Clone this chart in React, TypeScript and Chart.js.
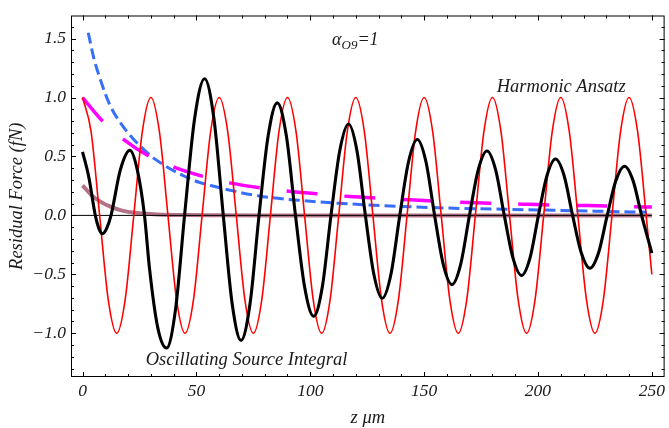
import React, { useEffect, useRef } from "react";
import { Chart, registerables } from "chart.js";

Chart.register(...registerables);

// ---------- data ----------
// Harmonic ansatz (red)
const redZ = [
  0, 3.75, 7.5, 11.25, 15, 18.75, 22.5, 26.25,
  30, 33.75, 37.5, 41.25, 45, 48.75, 52.5, 56.25,
  60, 63.75, 67.5, 71.25, 75, 78.75, 82.5, 86.25,
  90, 93.75, 97.5, 101.25, 105, 108.75, 112.5, 116.25,
  120, 123.75, 127.5, 131.25, 135, 138.75, 142.5, 146.25,
  150, 153.75, 157.5, 161.25, 165, 168.75, 172.5, 176.25,
  180, 183.75, 187.5, 191.25, 195, 198.75, 202.5, 206.25,
  210, 213.75, 217.5, 221.25, 225, 228.75, 232.5, 236.25,
  240, 243.75, 247.5, 250,
];
const redY = [
  1, 0.71, 0, -0.71, -1, -0.71, 0, 0.71,
  1, 0.71, 0, -0.71, -1, -0.71, 0, 0.71,
  1, 0.71, 0, -0.71, -1, -0.71, 0, 0.71,
  1, 0.71, 0, -0.71, -1, -0.71, 0, 0.71,
  1, 0.71, 0, -0.71, -1, -0.71, 0, 0.71,
  1, 0.71, 0, -0.71, -1, -0.71, 0, 0.71,
  1, 0.71, 0, -0.71, -1, -0.71, 0, 0.71,
  1, 0.71, 0, -0.71, -1, -0.71, 0, 0.71,
  1, 0.71, 0, -0.5,
];

// Oscillating source integral (black)
const blackZ = [
  0, 2.8, 5.6, 7.15, 8.7, 10.6, 12.5, 16.65, 20.8, 24.0, 27.2,
  29.4, 33, 36.9, 40.85, 44.8, 49.2, 53.6, 57.7, 61.8,
  65.7, 69.6, 73.55, 77.5, 81.5, 85.5, 89.5, 93.5,
  97.5, 101.5, 105.3, 109.1, 112.95, 116.8, 120.5, 124.2,
  127.9, 131.6, 135.45, 139.3, 143.15, 147.0, 150.8, 154.6,
  158.4, 162.2, 166.05, 169.9, 173.75, 177.6, 181.4, 185.2,
  189.0, 192.8, 196.5, 200.2, 203.95, 207.7, 211.45, 215.2,
  219.0, 222.8, 226.6, 230.4, 234.2, 238.0, 241.75, 245.5, 250,
];
const blackY = [
  0.54, 0.32, 0, -0.11, -0.155, -0.11, 0, 0.39, 0.552, 0.39, 0,
  -0.45, -0.95, -1.125, -0.795, 0, 0.82, 1.16, 0.82, 0,
  -0.75, -1.06, -0.75, 0, 0.675, 0.955, 0.675, 0,
  -0.605, -0.856, -0.605, 0, 0.548, 0.775, 0.548, 0,
  -0.497, -0.703, -0.497, 0, 0.455, 0.644, 0.455, 0,
  -0.415, -0.587, -0.415, 0, 0.387, 0.547, 0.387, 0,
  -0.36, -0.509, -0.36, 0, 0.338, 0.478, 0.338, 0,
  -0.317, -0.448, -0.317, 0, 0.295, 0.417, 0.295, 0, -0.32,
];

// Blue dashed envelope
const blueZ = [2.5, 5, 7.7, 12, 17.2, 22, 27.4, 32, 39, 45, 51.3, 58, 64.4, 77.5, 95, 112.4, 135, 160.4, 180, 200, 225, 247.8];
const blueY = [1.55, 1.33, 1.16, 0.936, 0.77, 0.655, 0.55, 0.475, 0.39, 0.33, 0.28, 0.245, 0.215, 0.165, 0.128, 0.103, 0.08, 0.062, 0.054, 0.046, 0.036, 0.027];

// Magenta long-dashed curve
const magZ = [0, 9.3, 18.1, 29.4, 40.7, 53.4, 65.8, 78.2, 91.6, 105.5, 117.5, 131.3, 143.7, 157.1, 169.2, 183.7, 195.4, 209.5, 221.3, 235.4, 247, 250];
const magY = [1.0, 0.79, 0.643, 0.5, 0.405, 0.328, 0.272, 0.233, 0.203, 0.179, 0.16, 0.145, 0.132, 0.12, 0.11, 0.1, 0.094, 0.087, 0.083, 0.077, 0.072, 0.071];

// Mauve decaying curve
const mauveZ = [0, 4, 8, 12, 17, 24, 33, 45, 60, 80, 250];
const mauveY = [0.255, 0.17, 0.115, 0.076, 0.043, 0.02, 0.008, 0.003, 0.001, 0, 0];

// Axis line at zero
const axisZ = [-5.07, 250];
const axisY = [0, 0];

// Axis settings
const X_MIN = -5.07;
const X_MAX = 255.6;
const Y_MIN = -1.371;
const Y_MAX = 1.696;
const X_MAJOR = 50;
const X_MINOR = 10;
const Y_MAJOR = 0.5;
const Y_MINOR = 0.1;

const X_TITLE = "z μm";
const Y_TITLE = "Residual Force (fN)";
const LABEL_HARMONIC = "Harmonic Ansatz";
const LABEL_OSC = "Oscillating Source Integral";

const SERIF = "'Liberation Serif', 'Times New Roman', serif";

const pts = (xs: number[], ys: number[]) => xs.map((x, i) => ({ x, y: ys[i] }));

const framePlugin = {
  id: "mmaFrame",
  afterDraw(chart: any) {
    const { ctx, chartArea: a, scales } = chart;
    const xs = scales.x;
    const ys = scales.y;
    ctx.save();
    ctx.strokeStyle = "#000";
    ctx.lineWidth = 1;
    ctx.strokeRect(a.left + 0.5, a.top + 0.5, a.right - a.left - 1, a.bottom - a.top - 1);
    ctx.beginPath();
    const nx = Math.round((250 - 0) / X_MINOR);
    for (let i = 0; i <= nx; i++) {
      const v = i * X_MINOR;
      const major = Math.abs(v / X_MAJOR - Math.round(v / X_MAJOR)) < 1e-6;
      const L = major ? 5 : 3;
      const px = Math.round(xs.getPixelForValue(v)) + 0.5;
      ctx.moveTo(px, a.bottom);
      ctx.lineTo(px, a.bottom - L);
      ctx.moveTo(px, a.top);
      ctx.lineTo(px, a.top + L);
    }
    for (let i = -13; i <= 16; i++) {
      const v = i * Y_MINOR;
      const major = Math.abs(v / Y_MAJOR - Math.round(v / Y_MAJOR)) < 1e-6;
      const L = major ? 5 : 3;
      const py = Math.round(ys.getPixelForValue(v)) + 0.5;
      ctx.moveTo(a.left, py);
      ctx.lineTo(a.left + L, py);
      ctx.moveTo(a.right, py);
      ctx.lineTo(a.right - L, py);
    }
    ctx.stroke();

    ctx.fillStyle = "#1a1a1a";
    ctx.textAlign = "center";
    ctx.textBaseline = "alphabetic";
    ctx.font = `italic 18.5px ${SERIF}`;
    ctx.fillText(LABEL_HARMONIC, xs.getPixelForValue(210.2), ys.getPixelForValue(1.096) + 6);
    ctx.fillText(LABEL_OSC, xs.getPixelForValue(72.0), ys.getPixelForValue(-1.221) + 6);

    // alpha_O9 = 1
    const cx = xs.getPixelForValue(119.8);
    const by = ys.getPixelForValue(1.496) + 6;
    ctx.textAlign = "left";
    ctx.font = `italic 18px ${SERIF}`;
    const w1 = ctx.measureText("α").width;
    const w3 = ctx.measureText("=1").width;
    ctx.font = `italic 13px ${SERIF}`;
    const w2 = ctx.measureText("O9").width;
    let sx = cx - (w1 + w2 + w3) / 2;
    ctx.font = `italic 18px ${SERIF}`;
    ctx.fillText("α", sx, by);
    sx += w1;
    ctx.font = `italic 13px ${SERIF}`;
    ctx.fillText("O9", sx, by + 4);
    sx += w2;
    ctx.font = `italic 18px ${SERIF}`;
    ctx.fillText("=1", sx, by);

    // axis titles
    ctx.textAlign = "center";
    ctx.textBaseline = "middle";
    ctx.font = `italic 18.5px ${SERIF}`;
    ctx.fillText(X_TITLE, (a.left + a.right) / 2, 418);
    ctx.save();
    ctx.translate(17.5, (a.top + a.bottom) / 2);
    ctx.rotate(-Math.PI / 2);
    ctx.fillText(Y_TITLE, 0, 0);
    ctx.restore();
    ctx.restore();
  },
};

export default function App() {
  const ref = useRef<HTMLCanvasElement | null>(null);
  useEffect(() => {
    document.body.style.margin = "0";
    const canvas = ref.current;
    if (!canvas) return;
    const tickFont = { family: SERIF, style: "italic" as const, size: 17.5 };
    const chart = new Chart(canvas, {
      type: "line",
      data: {
        datasets: [
          {
            label: "Oscillating Source Integral",
            data: pts(blackZ, blackY),
            borderColor: "#000",
            borderWidth: 3.1,
            pointRadius: 0,
            cubicInterpolationMode: "monotone",
          },
          {
            label: "Harmonic Ansatz",
            data: pts(redZ, redY),
            borderColor: "rgb(255,0,0)",
            borderWidth: 1.6,
            pointRadius: 0,
            cubicInterpolationMode: "monotone",
          },
          {
            label: "magenta",
            data: pts(magZ, magY),
            borderColor: "rgb(255,0,255)",
            borderWidth: 3.5,
            borderDash: [31, 27],
            pointRadius: 0,
            cubicInterpolationMode: "monotone",
          },
          {
            label: "blue",
            data: pts(blueZ, blueY),
            borderColor: "rgb(55,110,250)",
            borderWidth: 3,
            borderDash: [11, 5],
            pointRadius: 0,
            cubicInterpolationMode: "monotone",
          },
          {
            label: "axis",
            data: pts(axisZ, axisY),
            borderColor: "#000",
            borderWidth: 1,
            pointRadius: 0,
          },
          {
            label: "mauve",
            data: pts(mauveZ, mauveY),
            borderColor: "rgba(160,80,105,0.8)",
            borderWidth: 4,
            pointRadius: 0,
            cubicInterpolationMode: "monotone",
          },
        ],
      },
      options: {
        animation: false,
        responsive: false,
        maintainAspectRatio: false,
        parsing: false as any,
        layout: { padding: { top: 9, right: 1, left: 0, bottom: 0 } },
        plugins: {
          legend: { display: false },
          tooltip: { enabled: false },
        },
        scales: {
          x: {
            type: "linear",
            min: X_MIN,
            max: X_MAX,
            grid: { display: false, drawTicks: false },
            border: { display: false },
            ticks: {
              stepSize: X_MAJOR,
              includeBounds: false,
              font: tickFont,
              color: "#1a1a1a",
              padding: 4,
              maxRotation: 0,
              autoSkip: false,
              callback: (v: any) => String(v),
            },
            afterFit: (s: any) => {
              s.height = 51;
            },
          },
          y: {
            type: "linear",
            min: Y_MIN,
            max: Y_MAX,
            grid: { display: false, drawTicks: false },
            border: { display: false },
            ticks: {
              stepSize: Y_MAJOR,
              includeBounds: false,
              font: tickFont,
              color: "#1a1a1a",
              padding: 5,
              autoSkip: false,
              callback: (v: any) => {
                const s = Number(v).toFixed(1);
                return s.startsWith("-") ? "−" + s.slice(1) : s;
              },
            },
            afterFit: (s: any) => {
              s.width = 71;
            },
          },
        },
      },
      plugins: [framePlugin],
    });
    return () => chart.destroy();
  }, []);
  return (
    <div style={{ width: 669, height: 428 }}>
      <canvas ref={ref} width={669} height={428} />
    </div>
  );
}
